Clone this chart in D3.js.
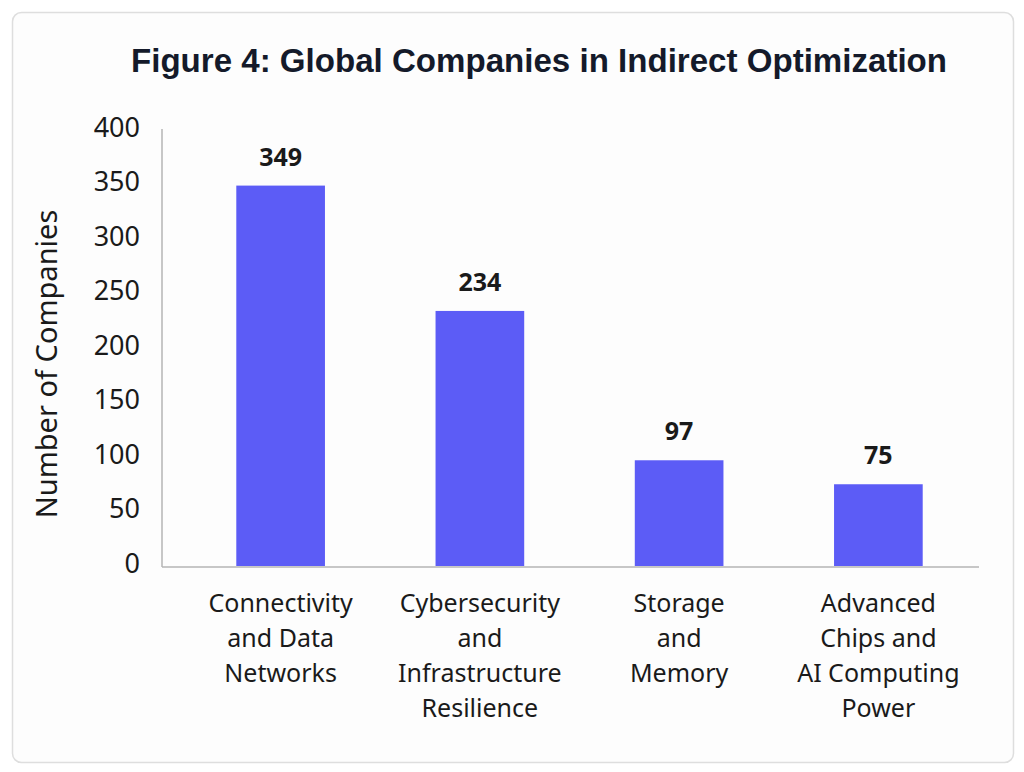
<!DOCTYPE html>
<html>
<head>
<meta charset="utf-8">
<script src="https://cdn.jsdelivr.net/npm/d3@7"></script>
<style>
  html, body { margin: 0; padding: 0; background: #ffffff; }
  svg { display: block; }
</style>
</head>
<body>
<script>
// Categories (each label split into its display lines)
const categories = [
    ["Connectivity", "and Data", "Networks"],
    ["Cybersecurity", "and", "Infrastructure", "Resilience"],
    ["Storage", "and", "Memory"],
    ["Advanced", "Chips and", "AI Computing", "Power"]
];
const companyCounts = [349, 234, 97, 75];
const yTicks = [0, 50, 100, 150, 200, 250, 300, 350, 400];

const W = 1024, H = 772;
const bodyFont = "'Noto Sans', 'Open Sans', sans-serif";

const svg = d3.select("body").append("svg")
    .attr("width", W)
    .attr("height", H);

// Card behind the chart
svg.append("rect")
    .attr("x", 12.5).attr("y", 12.5)
    .attr("width", 1001).attr("height", 750)
    .attr("rx", 9)
    .attr("fill", "#fdfdfd")
    .attr("stroke", "#dedede")
    .attr("stroke-width", 1.5);

// Title
svg.append("text")
    .attr("x", 539)
    .attr("y", 72)
    .attr("text-anchor", "middle")
    .attr("textLength", 816)
    .attr("lengthAdjust", "spacingAndGlyphs")
    .style("font-family", "'Liberation Sans Narrow', 'Liberation Sans', Arial, sans-serif")
    .style("font-weight", "bold")
    .style("font-size", "34px")
    .style("fill", "#141a2a")
    .text("Figure 4: Global Companies in Indirect Optimization");

const keys = d3.range(categories.length);

const x = d3.scaleBand()
    .domain(keys)
    .range([181, 978])
    .paddingInner(0.555)
    .paddingOuter(0.2775);

const y = d3.scaleLinear()
    .domain([0, 400])
    .range([566, 130]);

// Axis lines
svg.append("line")
    .attr("x1", 162).attr("x2", 162)
    .attr("y1", 129).attr("y2", y(0) + 1)
    .attr("stroke", "#b4b4b4").attr("stroke-width", 1.5);

svg.append("line")
    .attr("x1", 162).attr("x2", 979)
    .attr("y1", y(0) + 1).attr("y2", y(0) + 1)
    .attr("stroke", "#b4b4b4").attr("stroke-width", 1.5);

// Y tick labels
svg.append("g").selectAll("text")
    .data(yTicks)
    .join("text")
    .attr("x", 140)
    .attr("y", d => y(d) - 3)
    .attr("dy", "0.36em")
    .attr("text-anchor", "end")
    .style("font-family", bodyFont)
    .style("font-size", "27px")
    .style("fill", "#1a1a1a")
    .text(d => d);

// Y axis title
svg.append("text")
    .attr("transform", "translate(57, 364) rotate(-90)")
    .attr("text-anchor", "middle")
    .style("font-family", bodyFont)
    .style("font-size", "29px")
    .style("fill", "#1a1a1a")
    .text("Number of Companies");

// Bars
svg.append("g").selectAll("rect")
    .data(keys)
    .join("rect")
    .attr("x", i => x(i))
    .attr("y", i => y(companyCounts[i]))
    .attr("width", x.bandwidth())
    .attr("height", i => y(0) - y(companyCounts[i]))
    .attr("fill", "#5c5cf6");

// Value labels
svg.append("g").selectAll("text")
    .data(keys)
    .join("text")
    .attr("x", i => x(i) + x.bandwidth() / 2)
    .attr("y", i => y(companyCounts[i]) - 20)
    .attr("text-anchor", "middle")
    .style("font-family", bodyFont)
    .style("font-weight", "bold")
    .style("font-size", "25px")
    .style("fill", "#1a1a1a")
    .text(i => companyCounts[i]);

// Category labels
const catLabels = svg.append("g").selectAll("text")
    .data(keys)
    .join("text")
    .attr("text-anchor", "middle")
    .style("font-family", bodyFont)
    .style("font-size", "25px")
    .style("fill", "#1a1a1a");

catLabels.selectAll("tspan")
    .data(i => categories[i].map(line => ({ i, line })))
    .join("tspan")
    .attr("x", d => x(d.i) + x.bandwidth() / 2)
    .attr("y", (d, j) => 612 + j * 35)
    .text(d => d.line);
</script>
</body>
</html>
